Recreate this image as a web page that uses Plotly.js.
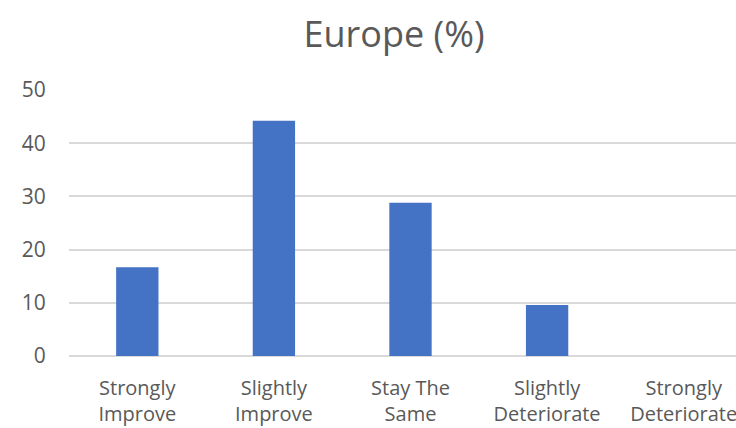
<!DOCTYPE html>
<html>
<head>
<meta charset="utf-8">
<script src="https://cdn.plot.ly/plotly-3.0.1.min.js"></script>
<style>
html, body { margin: 0; padding: 0; overflow: hidden; background: #fff; }
#chart { width: 788px; height: 428px; }
</style>
</head>
<body>
<div id="chart"></div>
<script>
const chartTitle = "Europe (%)";
const categories = ["Strongly<br>Improve", "Slightly<br>Improve", "Stay The<br>Same", "Slightly<br>Deteriorate", "Strongly<br>Deteriorate"];
const values = [16.7, 44.2, 28.8, 9.6, 0];
const yTicks = [0, 10, 20, 30, 40, 50];

const font = "'Open Sans', 'DejaVu Sans', sans-serif";
const textColor = "#595959";
const gridColor = "#d9d9d9";

const data = [{
  type: "bar",
  x: categories,
  y: values,
  marker: { color: "#4472c4" },
  hoverinfo: "x+y"
}];

const layout = {
  width: 788,
  height: 428,
  margin: { l: 69, r: 36, t: 90, b: 72, pad: 0 },
  paper_bgcolor: "#ffffff",
  plot_bgcolor: "#ffffff",
  showlegend: false,
  bargap: 0.69,
  title: {
    text: chartTitle,
    font: { family: font, size: 36, color: textColor },
    x: 0.5, xref: "container", xanchor: "center",
    y: 0.92, yref: "container", yanchor: "middle"
  },
  xaxis: {
    type: "category",
    showgrid: false,
    showline: false,
    zeroline: false,
    ticks: "outside",
    ticklen: 14,
    tickcolor: "rgba(0,0,0,0)",
    tickfont: { family: font, size: 20, color: textColor }
  },
  yaxis: {
    range: [0, 50],
    tickvals: yTicks,
    ticktext: yTicks.map(String),
    showgrid: true,
    gridcolor: gridColor,
    gridwidth: 2,
    zeroline: true,
    zerolinecolor: gridColor,
    zerolinewidth: 2,
    showline: false,
    ticks: "outside",
    ticklen: 18,
    tickcolor: "rgba(0,0,0,0)",
    tickfont: { family: font, size: 21, color: textColor }
  }
};

Plotly.newPlot("chart", data, layout, { displayModeBar: false, staticPlot: true });
</script>
</body>
</html>
